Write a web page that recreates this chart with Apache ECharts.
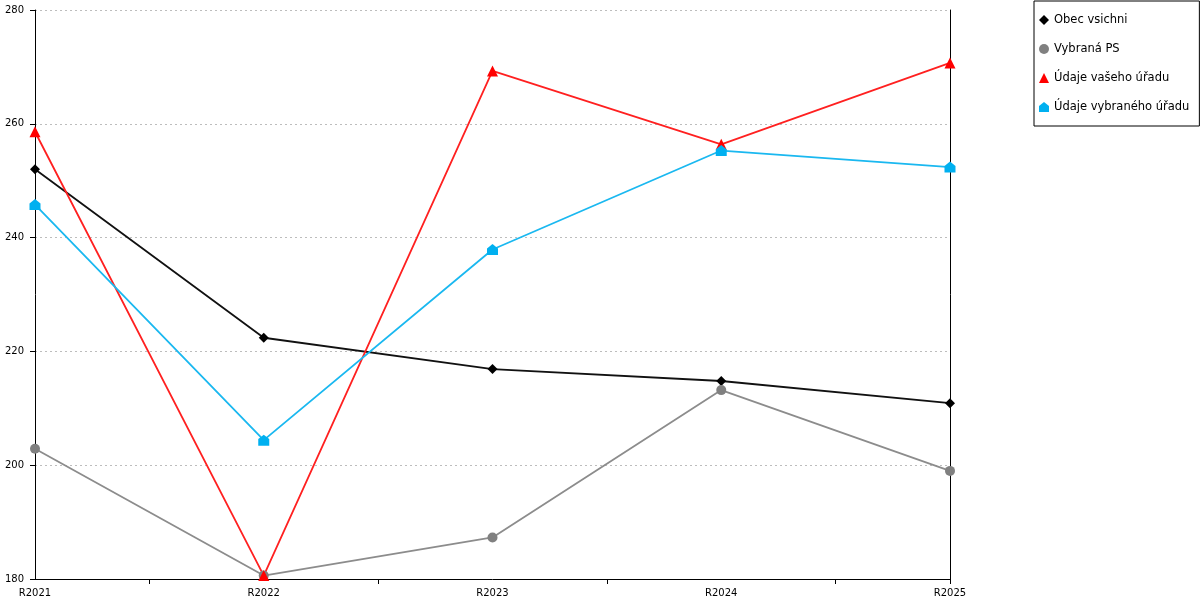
<!DOCTYPE html>
<html>
<head>
<meta charset="utf-8">
<script src="https://cdn.jsdelivr.net/npm/echarts@6/dist/echarts.min.js"></script>
<style>html,body{margin:0;padding:0;background:#fff}#c{width:1200px;height:600px}</style>
</head>
<body>
<div id="c"></div>
<script>
var categories = ['R2021', 'R2022', 'R2023', 'R2024', 'R2025'];
var obecVsichni = [252.0, 222.4, 216.9, 214.8, 210.9];
var vybranaPS = [202.9, 180.6, 187.3, 213.2, 199.0];
var udajeVaseho = [258.6, 180.6, 269.3, 256.4, 270.7];
var udajeVybraneho = [245.8, 204.4, 237.9, 255.3, 252.4];
var yTicks = { min: 180, max: 280, interval: 20 };

var houseSymbol = 'path://M5,0 L10,4 L10,10 L0,10 L0,4 Z';
var font = 'DejaVu Sans';

var tickSlots = [];
for (var i = 0; i < categories.length * 2 - 1; i++) tickSlots.push('');

var chart = echarts.init(document.getElementById('c'), null, { renderer: 'canvas' });
function mk(name, data, color, lineColor, symbol, size) {
  return {
    name: name, type: 'line', data: data,
    xAxisIndex: 0, yAxisIndex: 0,
    symbol: symbol, symbolSize: size, showAllSymbol: true,
    lineStyle: { color: lineColor, width: 1.8 },
    itemStyle: { color: color },
    emphasis: { disabled: true },
    animation: false
  };
}
chart.setOption({
  animation: false,
  textStyle: { fontFamily: font },
  grid: { left: 35, right: 250, top: 10, bottom: 21 },
  legend: {
    orient: 'vertical', left: 1034, top: 1,
    borderColor: '#000', borderWidth: 1,
    padding: [12, 10, 12, 5],
    itemWidth: 10, itemHeight: 10, itemGap: 15,
    textStyle: { fontFamily: font, fontSize: 11.5, color: '#000', lineHeight: 14 },
    data: [
      { name: 'Obec vsichni', icon: 'diamond' },
      { name: 'Vybraná PS', icon: 'circle' },
      { name: 'Údaje vašeho úřadu', icon: 'triangle' },
      { name: 'Údaje vybraného úřadu', icon: houseSymbol }
    ]
  },
  xAxis: [
    {
      type: 'category', data: categories, boundaryGap: false,
      axisLine: { lineStyle: { color: '#000', width: 1 } },
      axisTick: { show: false },
      axisLabel: { color: '#000', fontSize: 10, fontFamily: font, margin: 9, interval: 0 },
      splitLine: { show: false }
    },
    {
      type: 'category', data: tickSlots, boundaryGap: false, position: 'bottom',
      axisLine: { show: false },
      axisTick: { show: true, length: 5, lineStyle: { color: '#000' },
        interval: function (idx) { return idx % 2 === 1 || idx === tickSlots.length - 1; } },
      axisLabel: { show: false },
      splitLine: { show: false }
    }
  ],
  yAxis: [
    {
      type: 'value', min: yTicks.min, max: yTicks.max, interval: yTicks.interval,
      axisLine: { show: true, lineStyle: { color: '#000', width: 1 } },
      axisTick: { show: true, length: 5, lineStyle: { color: '#000' } },
      axisLabel: { color: '#000', fontSize: 10, fontFamily: font, margin: 11 },
      splitLine: { show: true, lineStyle: { color: '#bdbdbd', type: [2, 3], width: 1 } }
    },
    {
      type: 'value', min: yTicks.min, max: yTicks.max, interval: yTicks.interval, position: 'right',
      axisLine: { show: true, lineStyle: { color: '#000', width: 1 } },
      axisTick: { show: false }, axisLabel: { show: false }, splitLine: { show: false }
    }
  ],
  series: [
    mk('Obec vsichni', obecVsichni, '#000000', '#111111', 'diamond', 10),
    mk('Vybraná PS', vybranaPS, '#808080', '#8c8c8c', 'circle', 10),
    mk('Údaje vašeho úřadu', udajeVaseho, '#ff0000', '#ff2020', 'triangle', 11),
    mk('Údaje vybraného úřadu', udajeVybraneho, '#00b0f0', '#1ab8f0', houseSymbol, 11)
  ]
});
</script>
</body>
</html>
